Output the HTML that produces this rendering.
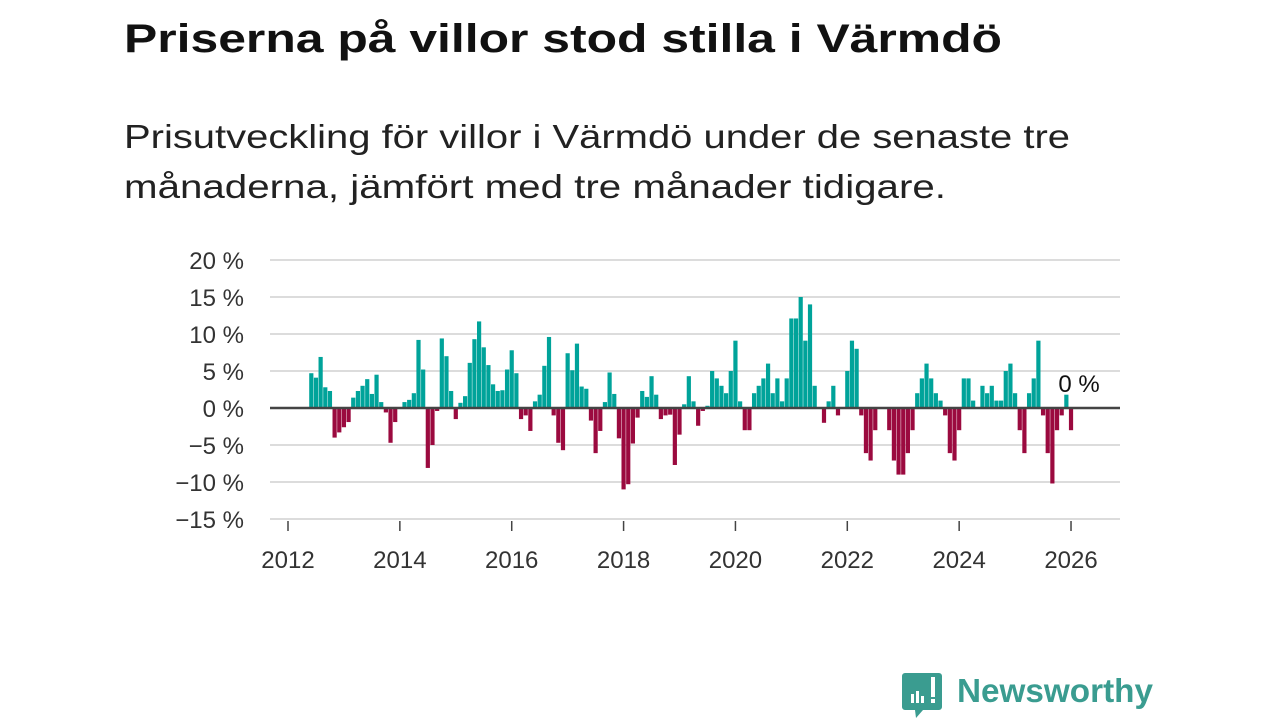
<!DOCTYPE html>
<html><head><meta charset="utf-8"><style>
html,body{margin:0;padding:0;background:#fff;width:1280px;height:720px;overflow:hidden}
svg{display:block;font-family:"Liberation Sans",sans-serif}
</style></head><body>
<svg id="chart" width="1280" height="720" viewBox="0 0 1280 720">
<text x="124" y="52" font-size="40" font-weight="bold" fill="#111" textLength="878" lengthAdjust="spacingAndGlyphs">Priserna på villor stod stilla i Värmdö</text>
<text x="124" y="148" font-size="33" fill="#222" textLength="946" lengthAdjust="spacingAndGlyphs">Prisutveckling för villor i Värmdö under de senaste tre</text>
<text x="124" y="198" font-size="33" fill="#222" textLength="822" lengthAdjust="spacingAndGlyphs">månaderna, jämfört med tre månader tidigare.</text>
<g id="grid"></g>
<g id="bars"></g>
<g id="axes"></g>
<g>
<path d="M905 673 h34 a3 3 0 0 1 3 3 v31 a3 3 0 0 1 -3 3 h-16 l-7 8 l-1 -8 h-10 a3 3 0 0 1 -3 -3 v-31 a3 3 0 0 1 3 -3z" fill="#3a9c90"/>
<rect x="911" y="694" width="3" height="9" fill="#fff"/><rect x="916" y="691" width="3" height="12" fill="#fff"/><rect x="921" y="696" width="3" height="7" fill="#fff"/><rect x="931" y="677" width="4" height="20" fill="#fff"/><rect x="931" y="699" width="4" height="4" fill="#fff"/>
<text x="957" y="702" font-size="33" font-weight="bold" fill="#3a9c90" textLength="196" lengthAdjust="spacingAndGlyphs">Newsworthy</text>
</g>
</svg>
<script>
const startYear = 2012, startMonth = 5; // first bar: June 2012
const values = [4.7,4.1,6.9,2.8,2.3,-4.0,-3.3,-2.6,-1.9,1.4,2.3,3.0,3.9,1.9,4.5,0.8,-0.6,-4.7,-1.9,0,0.8,1.1,2.0,9.2,5.2,-8.1,-5.0,-0.4,9.4,7.0,2.3,-1.5,0.7,1.6,6.1,9.3,11.7,8.2,5.8,3.2,2.3,2.4,5.2,7.8,4.7,
-1.5,-1.0,-3.1,0.9,1.8,5.7,9.6,-1.0,-4.7,-5.7,7.4,5.1,8.7,2.9,2.6,-1.7,-6.1,-3.1,0.8,4.8,1.9,-4.1,-11.0,-10.3,-4.8,-1.3,2.3,1.5,4.3,1.8,-1.5,-1.0,-0.9,-7.7,-3.6,0.5,4.3,0.9,-2.4,-0.4,0.3,5.0,4.0,3.0,
2.0,5.0,9.1,0.9,-3.0,-3.0,2.0,3.0,4.0,6.0,2.0,4.0,0.9,4.0,12.1,12.1,15.0,9.1,14.0,3.0,0,-2.0,0.9,3.0,-1.0,0,5.0,9.1,8.0,-1.0,-6.1,-7.1,-3.0,0,0,-3.0,-7.1,-9.0,-9.0,-6.1,-3.0,2.0,
4.0,6.0,4.0,2.0,1.0,-1.0,-6.1,-7.1,-3.0,4.0,4.0,1.0,0,3.0,2.0,3.0,1.0,1.0,5.0,6.0,2.0,-3.0,-6.1,2.0,4.0,9.1,-1.0,-6.1,-10.2,-3.0,-1.0,1.8,-3.0];
const yTicks = [20,15,10,5,0,-5,-10,-15];
const yTickLabels = ["20 %","15 %","10 %","5 %","0 %","\u22125 %","\u221210 %","\u221215 %"];
const xTicks = [2012,2014,2016,2018,2020,2022,2024,2026];
const lastLabel = "0 %";

const NS = "http://www.w3.org/2000/svg";
const y = v => 408 - v * 7.4;
const x = yrs => 288 + (yrs - 2012) * 55.93;
function mk(tag, attrs, parent){const e=document.createElementNS(NS,tag);for(const k in attrs)e.setAttribute(k,attrs[k]);parent.appendChild(e);return e;}
const grid=document.getElementById('grid'), bars=document.getElementById('bars'), axes=document.getElementById('axes');
yTicks.forEach((t,i)=>{
  if(t!==0){const l=mk('line',{x1:270,x2:1120,y1:y(t),y2:y(t),stroke:'#dcdcdc','stroke-width':2},grid);
  
  }
  const tx=mk('text',{x:244,y:y(t)+9,'font-size':24,fill:'#333','text-anchor':'end'},axes);
  tx.textContent=yTickLabels[i];
  
  
});
values.forEach((v,i)=>{
  const m = startMonth + i;
  const cx = x(startYear + m/12);
  const top = Math.min(y(v), y(0)), h = Math.abs(y(v)-y(0));
  const r=mk('rect',{x:cx-2.1,y:top,width:4.2,height:h,fill:v>=0?'#00a39a':'#9b0a3f'},bars);
  
  
});
const z=mk('line',{x1:270,x2:1120,y1:y(0),y2:y(0),stroke:'#444','stroke-width':2.5},axes);


xTicks.forEach(t=>{
  const tk=mk('line',{x1:x(t),x2:x(t),y1:521,y2:531,stroke:'#444','stroke-width':1.5},axes);
  
  
  const tx=mk('text',{x:x(t),y:568,'font-size':24,fill:'#333','text-anchor':'middle'},axes);
  tx.textContent=t;
  
  
});
const lx = x(startYear + (startMonth+values.length-1)/12);
const ll=mk('text',{x:lx+8,y:y(0)-16,'font-size':24,fill:'#111','text-anchor':'middle',stroke:'#fff','stroke-width':5,'paint-order':'stroke'},axes);
ll.textContent=lastLabel;


</script>
</body></html>
